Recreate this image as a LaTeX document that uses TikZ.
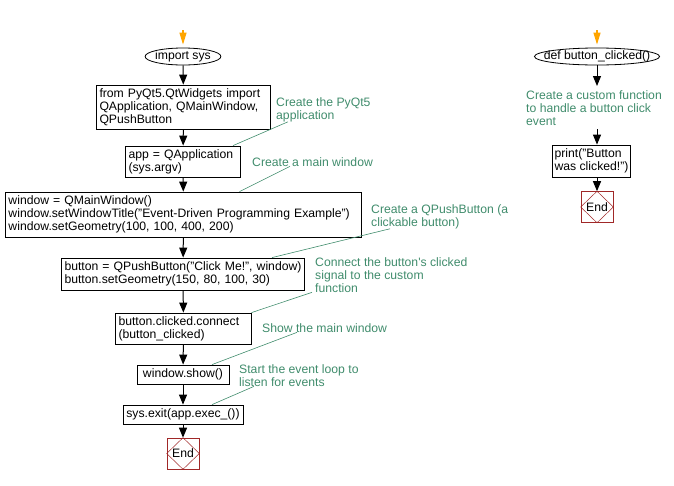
\documentclass[tikz,border=0pt]{standalone}
\usepackage{fontspec}
\setmainfont{Liberation Sans}
\usepackage{tikz}
\usetikzlibrary{arrows.meta, shapes.geometric}
\definecolor{notegreen}{RGB}{64,140,108}
\definecolor{endred}{RGB}{160,40,40}
\definecolor{startorange}{RGB}{255,165,0}
\newcommand{\codefont}{\fontsize{12.2}{13}\selectfont}
\tikzstyle{block} = [rectangle, draw, line width=0.8pt, align=left,
  inner xsep=3pt, inner ysep=2pt, font=\codefont]
\tikzstyle{entry} = [ellipse, draw, line width=0.8pt, inner ysep=0pt,
  minimum height=17pt, font=\codefont]
\tikzstyle{finish} = [rectangle, draw=endred, line width=0.6pt,
  minimum width=32pt, minimum height=31pt, inner sep=0pt, font=\codefont]
\tikzstyle{note} = [text=notegreen, align=left, inner sep=0pt,
  anchor=north west, font=\codefont]
\tikzstyle{arrow} = [line width=1pt, -{Triangle[length=10pt, width=8pt]}]
\tikzstyle{startarrow} = [line width=1.2pt, color=startorange, shorten >=3pt,
  -{Triangle[length=12pt, width=7pt]}]
\tikzstyle{noteline} = [draw=notegreen, line width=0.6pt]

\begin{document}
\begin{tikzpicture}[x=1pt, y=-1pt]
    \useasboundingbox (0,0) rectangle (674,485);
    % main script
    \coordinate (s0) at (183,30);
    \node[entry, minimum width=74pt, inner xsep=-1pt] (n1) at (183,56.5) {import sys};
    \node[block, text width=168pt, minimum height=44pt] (n2) at (183.5,107) {from PyQt5.QtWidgets import\\QApplication, QMainWindow,\\QPushButton};
    \node[block, text width=109pt, minimum height=31pt] (n3) at (183,161.5) {app = QApplication\\(sys.argv)};
    \node[block, text width=350pt, minimum height=45pt] (n4) at (183.5,214.5) {window = QMainWindow()\\window.setWindowTitle("Event-Driven Programming Example")\\window.setGeometry(100, 100, 400, 200)};
    \node[block, text width=237pt, minimum height=32pt] (n5) at (183,274) {button = QPushButton("Click Me!", window)\\button.setGeometry(150, 80, 100, 30)};
    \node[block, text width=130pt, minimum height=31pt] (n6) at (183.5,328.5) {button.clicked.connect\\(button\_clicked)};
    \node[block, minimum width=92pt, minimum height=19pt] (n7) at (183,374.5) {window.show()};
    \node[block, minimum width=120pt, minimum height=19pt] (n8) at (183,414.5) {sys.exit(app.exec\_())};
    \node[finish] (n9) at (183,453.5) {End};
    \draw[endred, line width=0.5pt] (n9.north) -- (n9.east) -- (n9.south) -- (n9.west) -- cycle;

    \draw[startarrow] (s0) -- (n1);
    \draw[arrow] (n1) -- (n2);
    \draw[arrow] (n2) -- (n3);
    \draw[arrow] (n3) -- (n4);
    \draw[arrow] (n4) -- (n5);
    \draw[arrow] (n5) -- (n6);
    \draw[arrow] (n6) -- (n7);
    \draw[arrow] (n7) -- (n8);
    \draw[arrow] (n8) -- (n9);

    % comments
    \node[note] (c1) at (276,97) {Create the PyQt5\\application};
    \node[note] (c2) at (252,157) {Create a main window};
    \node[note] (c3) at (371,204) {Create a QPushButton (a\\clickable button)};
    \node[note] (c4) at (315,257) {Connect the button\textquotesingle s clicked\\signal to the custom\\function};
    \node[note] (c5) at (262,323) {Show the main window};
    \node[note] (c6) at (239,364) {Start the event loop to\\listen for events};
    \draw[noteline] ([xshift=12pt]c1.south west) -- ([xshift=50pt]n3.north);
    \draw[noteline] ([xshift=38pt]c2.south west) -- ([xshift=56pt]n4.north);
    \draw[noteline] ([xshift=19pt]c3.south west) -- ([xshift=89pt]n5.north);
    \draw[noteline] ([xshift=-3pt]c4.south west) -- ([xshift=68pt]n6.north);
    \draw[noteline] ([xshift=35pt]c5.south west) -- ([xshift=29pt]n7.north);
    \draw[noteline] ([xshift=15pt]c6.south west) -- ([xshift=29pt]n8.north);

    % callback function
    \coordinate (s1) at (597,30);
    \node[entry, minimum width=122pt, inner xsep=-9pt] (m1) at (597,56.5) {def button\_clicked()};
    \node[note, inner ysep=4pt] (m2) at (526,86) {Create a custom function\\to handle a button click\\event};
    \node[block, minimum width=77pt, minimum height=32pt, inner xsep=2pt] (m3) at (591.5,161) {print("Button\\was clicked!")};
    \node[finish] (m4) at (597,207) {End};
    \draw[endred, line width=0.5pt] (m4.north) -- (m4.east) -- (m4.south) -- (m4.west) -- cycle;

    \draw[startarrow] (s1) -- (m1);
    \draw[arrow] (m1) -- (m1 |- m2.north);
    \draw[arrow] (m2.south -| m1) -- (m1 |- m3.north);
    \draw[arrow] (m3.south -| m4) -- (m4);
  \end{tikzpicture}
\end{document}
